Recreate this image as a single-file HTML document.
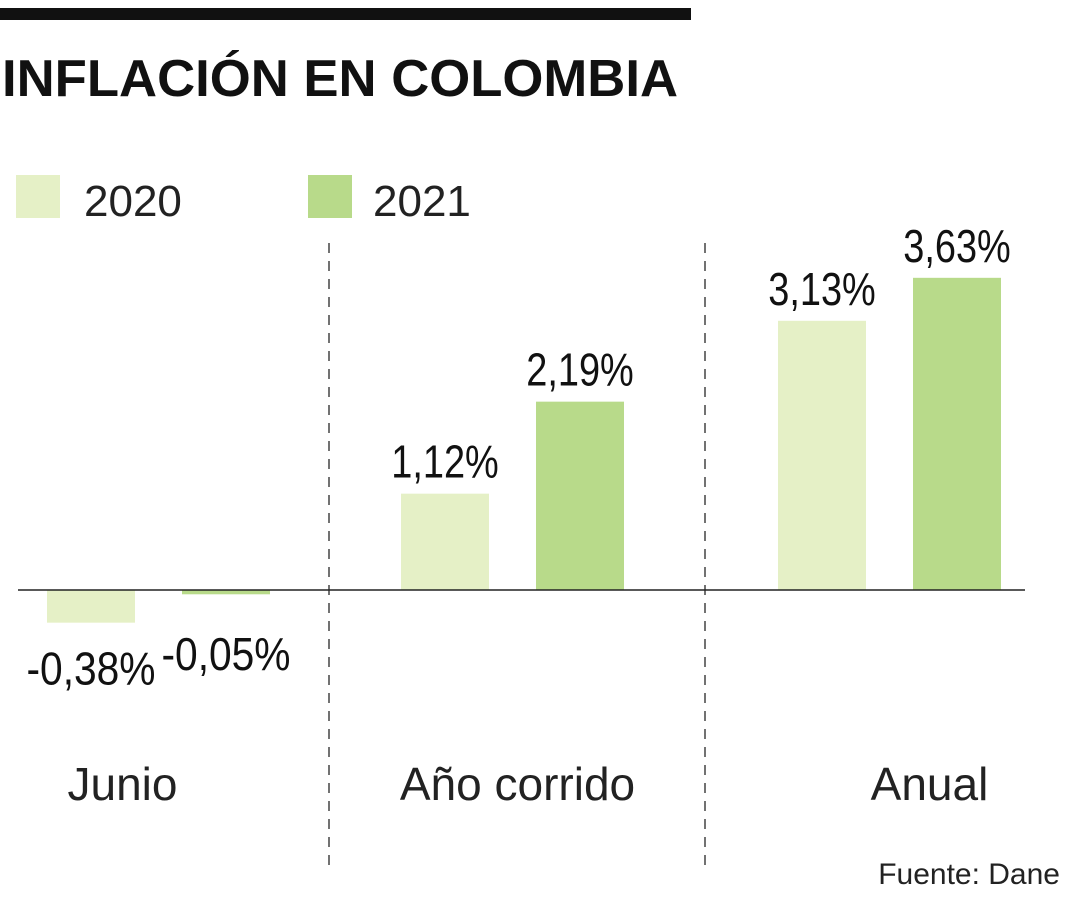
<!DOCTYPE html>
<html><head><meta charset="utf-8"><style>
body{margin:0;background:#fff;width:1080px;height:900px;overflow:hidden;font-family:"Liberation Sans",sans-serif}
</style></head><body>
<svg width="1080" height="900">
<rect x="0" y="8" width="691" height="12" fill="#111"/>
<text x="2" y="96" font-size="52" font-weight="bold" fill="#111" textLength="676" lengthAdjust="spacingAndGlyphs">INFLACIÓN EN COLOMBIA</text>
<rect x="16" y="175" width="44" height="43" fill="#e5f0c6"/>
<text x="84" y="216" font-size="44" fill="#222">2020</text>
<rect x="308" y="175" width="44" height="43" fill="#b8da8a"/>
<text x="373" y="216" font-size="44" fill="#222">2021</text>
<line x1="329" y1="243" x2="329" y2="870" stroke="#444" stroke-width="1.5" stroke-dasharray="10,8"/>
<line x1="705" y1="243" x2="705" y2="870" stroke="#444" stroke-width="1.5" stroke-dasharray="10,8"/>
<g id="bars"></g>
<line x1="18" y1="590" x2="1025" y2="590" stroke="#222" stroke-width="1.5"/>
<text x="1060" y="884" font-size="30" fill="#222" text-anchor="end">Fuente: Dane</text>
</svg>
<script>
const categories=["Junio","Año corrido","Anual"];
const values2020=[-0.38,1.12,3.13];
const values2021=[-0.05,2.19,3.63];
const labels2020=["-0,38%","1,12%","3,13%"];
const labels2021=["-0,05%","2,19%","3,63%"];
const NS="http://www.w3.org/2000/svg";
const g=document.getElementById('bars');
const baseY=590, k=86;
function y(v){return baseY-v*k;}
const groupX=[47,401,778], bw=88, gap=135;
const catOffset=[-36,5,40];
function mk(t,a){const e=document.createElementNS(NS,t);for(const n in a)e.setAttribute(n,a[n]);g.appendChild(e);return e;}
categories.forEach((c,i)=>{
 [[values2020,labels2020,'#e5f0c6','2020',0],[values2021,labels2021,'#b8da8a','2021',1]].forEach(([vals,labs,col,yr,j])=>{
  const v=vals[i],x=groupX[i]+j*gap;
  const r=mk('rect',{x:x,y:Math.min(y(v),baseY),width:bw,height:Math.abs(y(v)-baseY),fill:col});
  
  
  const ty=v>=0?y(v)-16:Math.max(y(v)+62,baseY+80);
  const t=mk('text',{x:x+bw/2,y:ty,'font-size':46,'text-anchor':'middle',fill:'#111',textLength:String(labs[i].length*21.5),lengthAdjust:'spacingAndGlyphs'});
  t.textContent=labs[i];
  
  
 });
 const lt=mk('text',{x:groupX[i]+(bw+gap)/2+catOffset[i],y:800,'font-size':46,'text-anchor':'middle',fill:'#222'});
 lt.textContent=c;
 
 
});
</script>
</body></html>
